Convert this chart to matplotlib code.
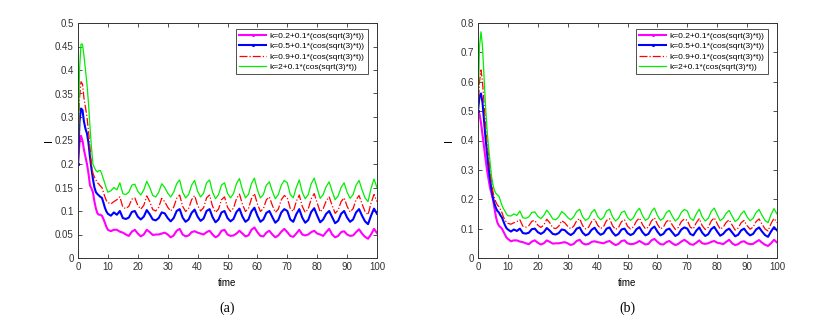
import numpy as np
import matplotlib
matplotlib.use("Agg")
import matplotlib.pyplot as plt

# ----------------
# Data
# ----------------
t_head = np.arange(0, 10.5, 0.5)   # 0 .. 10 step 0.5
t_tail = np.arange(11, 101)        # 11 .. 100

labels = [
    "k=0.2+0.1*(cos(sqrt(3)*t))",
    "k=0.5+0.1*(cos(sqrt(3)*t))",
    "k=0.9+0.1*(cos(sqrt(3)*t))",
    "k=2+0.1*(cos(sqrt(3)*t))",
]

# panel (a) transients
pink_a = [0.2, 0.245, 0.26, 0.25, 0.23, 0.215, 0.2, 0.18, 0.155, 0.148, 0.14,
          0.12, 0.105, 0.095, 0.092, 0.092, 0.09, 0.083, 0.075, 0.066, 0.06]
blue_a = [0.2, 0.29, 0.318, 0.315, 0.29, 0.275, 0.265, 0.245, 0.215, 0.19, 0.168,
          0.15, 0.14, 0.136, 0.133, 0.13, 0.128, 0.118, 0.107, 0.099, 0.094]
red_a = [0.2, 0.34, 0.375, 0.37, 0.34, 0.32, 0.3, 0.27, 0.235, 0.2, 0.18,
         0.172, 0.166, 0.16, 0.157, 0.153, 0.15, 0.14, 0.13, 0.122, 0.118]
green_a = [0.2, 0.4, 0.455, 0.455, 0.43, 0.4, 0.37, 0.33, 0.28, 0.235, 0.2,
           0.192, 0.186, 0.183, 0.186, 0.186, 0.178, 0.168, 0.158, 0.148, 0.14]

# panel (b) transients
pink_b = [0.5, 0.49, 0.46, 0.42, 0.38, 0.34, 0.3, 0.27, 0.24, 0.22, 0.2,
          0.17, 0.14, 0.12, 0.11, 0.105, 0.1, 0.09, 0.08, 0.07, 0.065]
blue_b = [0.5, 0.55, 0.56, 0.53, 0.47, 0.41, 0.36, 0.31, 0.27, 0.235, 0.205,
          0.185, 0.17, 0.16, 0.155, 0.145, 0.138, 0.125, 0.112, 0.102, 0.097]
red_b = [0.5, 0.6, 0.64, 0.6, 0.53, 0.46, 0.4, 0.35, 0.3, 0.26, 0.225,
         0.205, 0.19, 0.18, 0.175, 0.165, 0.155, 0.14, 0.13, 0.122, 0.118]
green_b = [0.5, 0.72, 0.77, 0.72, 0.62, 0.52, 0.44, 0.38, 0.33, 0.28, 0.25,
           0.23, 0.22, 0.215, 0.21, 0.195, 0.18, 0.168, 0.16, 0.15, 0.144]

# long-run oscillations (t = 11..100), same in both panels
pink_tail = [0.057, 0.06, 0.06, 0.056, 0.054, 0.05, 0.047, 0.056, 0.06, 0.052,
             0.046, 0.05, 0.06, 0.055, 0.049, 0.05, 0.05, 0.052, 0.054, 0.05,
             0.044, 0.048, 0.058, 0.062, 0.05, 0.046, 0.048, 0.055, 0.057, 0.054,
             0.052, 0.05, 0.055, 0.058, 0.05, 0.044, 0.048, 0.058, 0.06, 0.05,
             0.047, 0.048, 0.052, 0.058, 0.052, 0.046, 0.048, 0.06, 0.065, 0.055,
             0.047, 0.046, 0.054, 0.058, 0.05, 0.044, 0.048, 0.056, 0.062, 0.055,
             0.047, 0.045, 0.052, 0.06, 0.05, 0.048, 0.05, 0.055, 0.058, 0.052,
             0.05, 0.047, 0.055, 0.062, 0.05, 0.044, 0.047, 0.055, 0.057, 0.05,
             0.047, 0.048, 0.055, 0.061, 0.052, 0.045, 0.041, 0.05, 0.062, 0.053]
blue_tail = [0.09, 0.097, 0.092, 0.1, 0.085, 0.083, 0.086, 0.098, 0.1, 0.088,
             0.082, 0.088, 0.102, 0.093, 0.082, 0.08, 0.085, 0.097, 0.095, 0.085,
             0.078, 0.085, 0.1, 0.104, 0.086, 0.077, 0.082, 0.096, 0.103, 0.088,
             0.079, 0.084, 0.1, 0.104, 0.087, 0.076, 0.082, 0.097, 0.1, 0.085,
             0.078, 0.083, 0.098, 0.105, 0.088, 0.077, 0.082, 0.099, 0.107, 0.09,
             0.077, 0.082, 0.096, 0.1, 0.087, 0.075, 0.081, 0.097, 0.104, 0.1,
             0.082, 0.077, 0.093, 0.104, 0.086, 0.075, 0.081, 0.098, 0.106, 0.09,
             0.076, 0.082, 0.094, 0.1, 0.087, 0.074, 0.079, 0.094, 0.1, 0.086,
             0.077, 0.082, 0.097, 0.104, 0.09, 0.078, 0.072, 0.09, 0.105, 0.094]
red_tail = [0.115, 0.12, 0.124, 0.13, 0.108, 0.105, 0.11, 0.125, 0.128, 0.112,
            0.104, 0.112, 0.132, 0.12, 0.103, 0.1, 0.108, 0.127, 0.12, 0.108,
            0.1, 0.108, 0.127, 0.134, 0.11, 0.099, 0.105, 0.124, 0.133, 0.112,
            0.1, 0.107, 0.128, 0.134, 0.11, 0.097, 0.104, 0.124, 0.13, 0.108,
            0.099, 0.106, 0.126, 0.136, 0.114, 0.099, 0.105, 0.126, 0.137, 0.115,
            0.099, 0.105, 0.124, 0.13, 0.112, 0.097, 0.104, 0.124, 0.133, 0.128,
            0.105, 0.099, 0.12, 0.134, 0.11, 0.097, 0.104, 0.126, 0.137, 0.117,
            0.098, 0.105, 0.121, 0.13, 0.112, 0.095, 0.102, 0.12, 0.128, 0.11,
            0.098, 0.105, 0.124, 0.133, 0.115, 0.099, 0.092, 0.117, 0.135, 0.12]
green_tail = [0.143, 0.15, 0.145, 0.16, 0.137, 0.135, 0.14, 0.155, 0.157, 0.142,
              0.134, 0.145, 0.163, 0.15, 0.133, 0.13, 0.14, 0.158, 0.15, 0.138,
              0.13, 0.14, 0.158, 0.166, 0.14, 0.128, 0.135, 0.155, 0.165, 0.142,
              0.13, 0.138, 0.16, 0.166, 0.14, 0.126, 0.135, 0.155, 0.16, 0.138,
              0.128, 0.137, 0.158, 0.169, 0.145, 0.128, 0.135, 0.158, 0.17, 0.145,
              0.128, 0.135, 0.155, 0.162, 0.142, 0.126, 0.135, 0.155, 0.165, 0.16,
              0.135, 0.128, 0.15, 0.166, 0.14, 0.126, 0.135, 0.158, 0.17, 0.148,
              0.127, 0.135, 0.152, 0.162, 0.142, 0.124, 0.132, 0.15, 0.16, 0.14,
              0.127, 0.135, 0.155, 0.165, 0.145, 0.128, 0.12, 0.148, 0.168, 0.15]

# ----------------
# Style
# ----------------
plt.rcParams["font.family"] = ["Liberation Sans", "DejaVu Sans"]
colors = ["#ff00ff", "#0000ff", "#ff0000", "#00ee00"]
styles = ["-", "-", "-.", "-"]
widths = [1.5, 1.5, 0.9, 0.9]
markers = [".", ".", None, None]

fig = plt.figure(figsize=(8.18, 3.29), dpi=100)
ax_a = fig.add_axes([78 / 818, 1 - 258 / 329, 299 / 818, 235 / 329])
ax_b = fig.add_axes([478 / 818, 1 - 258 / 329, 299 / 818, 235 / 329])

t_all = np.concatenate([t_head, t_tail])
panels = [
    (ax_a, [pink_a, blue_a, red_a, green_a], 0.5, np.arange(0, 0.51, 0.05), "(a)"),
    (ax_b, [pink_b, blue_b, red_b, green_b], 0.8, np.arange(0, 0.81, 0.1), "(b)"),
]
tails = [pink_tail, blue_tail, red_tail, green_tail]

for ax, heads, ymax, yticks, tag in panels:
    for head, tail, c, ls, lw, mk, lab in zip(heads, tails, colors, styles, widths, markers, labels):
        y = np.concatenate([head, tail])
        ax.plot(t_all, y, color=c, linestyle=ls, linewidth=lw, marker=mk,
                markersize=2.5, markevery=1000, label=lab)
    ax.set_xlim(0, 100)
    ax.set_ylim(0, ymax)
    ax.set_xticks(np.arange(0, 101, 10))
    ax.set_yticks(yticks)
    ax.set_yticklabels([f"{v:g}" for v in yticks])
    ax.tick_params(direction="in", length=3, width=0.6, top=True, right=True,
                   labelsize=7, colors="#333333", pad=3)
    for sp in ax.spines.values():
        sp.set_linewidth(0.7)
        sp.set_color("#333333")
    ax.set_xlabel("time", fontsize=7, labelpad=4)
    ax.set_ylabel("I", fontsize=8, rotation=90)
    ax.yaxis.set_label_coords(-0.08, 0.5)
    leg = ax.legend(loc="upper right", bbox_to_anchor=(0.97, 0.975), borderaxespad=0,
                    fontsize=6, frameon=True, fancybox=False, edgecolor="black",
                    handlelength=3.3, handletextpad=0.4, borderpad=0.4,
                    labelspacing=0.3, numpoints=1)
    leg.get_frame().set_linewidth(0.6)
    ax.text(0.5, -0.215, tag, transform=ax.transAxes, ha="center", va="center",
            fontsize=10, family="Liberation Serif")

fig.savefig("out.png", dpi=100)
